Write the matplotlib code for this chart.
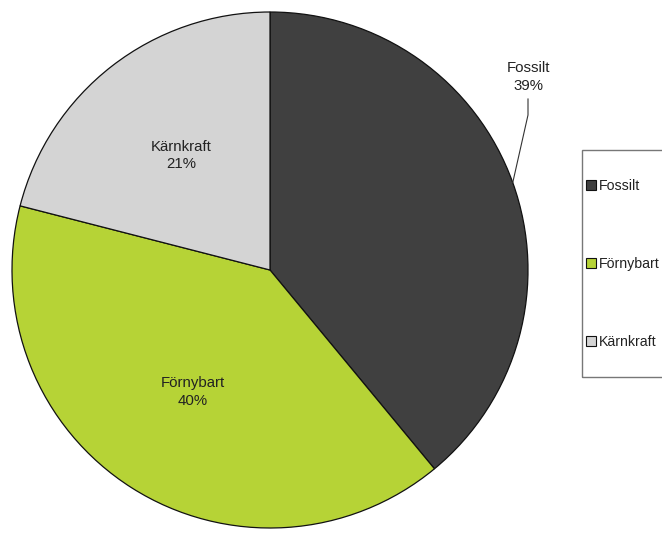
import numpy as np
import matplotlib.pyplot as plt
from matplotlib.patches import Rectangle

plt.rcParams['font.family'] = ['Liberation Sans', 'DejaVu Sans']

# Energy mix shares (percent)
sources = ['Fossilt', 'Förnybart', 'Kärnkraft']
shares = [39, 40, 21]
colors = ['#404040', '#b6d336', '#d4d4d4']

W, H = 662, 533
fig = plt.figure(figsize=(W / 100, H / 100), dpi=100)
ax = fig.add_axes([0, 0, 1, 1])

cx, cy, r = 270, H - 270, 258
wedges, _ = ax.pie(shares, colors=colors, startangle=90, counterclock=False,
                   center=(cx, cy), radius=r, frame=True,
                   wedgeprops=dict(edgecolor='#111111', linewidth=0.9))
ax.set_xlim(0, W)
ax.set_ylim(0, H)
ax.set_aspect('equal')
ax.axis('off')

txt_kw = dict(fontsize=10.8, color='#222222', ha='center', va='center', linespacing=1.3)

for w, name, val in zip(wedges, sources, shares):
    mid = np.deg2rad((w.theta1 + w.theta2) / 2)
    label = f'{name}\n{val}%'
    if name == 'Fossilt':
        # outside label with leader line to the rim
        ex, ey = cx + r * np.cos(mid), cy + r * np.sin(mid)
        tx, ty = 528, H - 77
        ax.text(tx, ty, label, **txt_kw)
        ax.plot([tx, tx, ex], [H - 99, H - 115, ey], color='#333333', lw=0.8)
    else:
        d = 0.56 * r
        ax.text(cx + d * np.cos(mid), cy + d * np.sin(mid), label, **txt_kw)

# Legend frame and entries
fig.patches.append(Rectangle((582 / W, (H - 377) / H), 100 / W, 227 / H,
                             transform=fig.transFigure, fill=False,
                             edgecolor='#777777', linewidth=1.0))
leg = ax.legend(wedges, sources, loc='center left',
                bbox_to_anchor=(586 / W, (H - 264) / H), bbox_transform=fig.transFigure,
                frameon=False, fontsize=10.2, labelspacing=4.5,
                handlelength=0.68, handleheight=0.68, handletextpad=0.2,
                borderpad=0, borderaxespad=0, labelcolor='#222222')
for h in leg.legend_handles:
    h.set_linewidth(0.8)

fig.savefig('out.png', dpi=100)
